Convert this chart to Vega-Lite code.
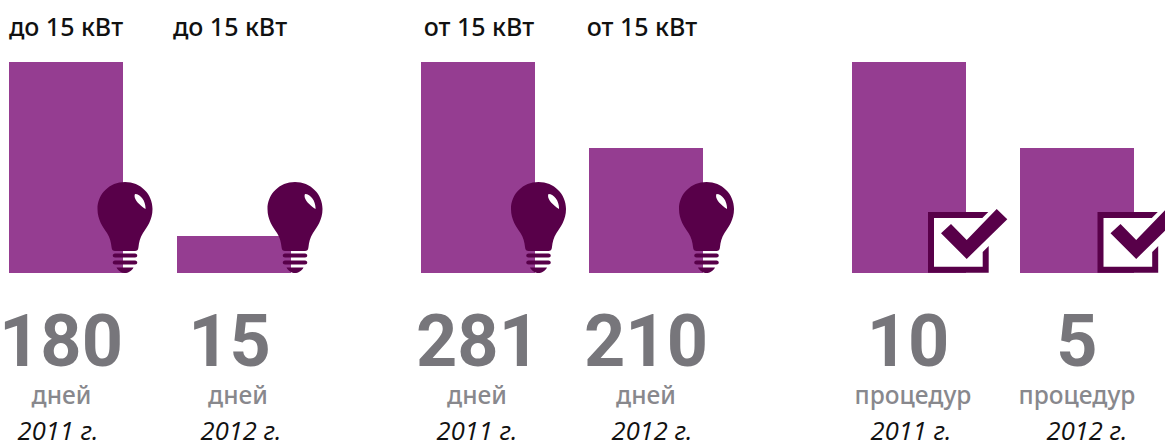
{
"$schema":"https://vega.github.io/schema/vega-lite/v6.json",
"width":1165,"height":441,"padding":0,"autosize":{"type":"none"},
"background":"white","view":{"stroke":null},
"data":{"values":[
{"slot":1,"power":"до 15 кВт","year":"2011 г.","value":180,"unit":"дней","level":100,"icon":"bulb"},
{"slot":2,"power":"до 15 кВт","year":"2012 г.","value":15,"unit":"дней","level":17.5,"icon":"bulb"},
{"slot":3,"power":"от 15 кВт","year":"2011 г.","value":281,"unit":"дней","level":100,"icon":"bulb"},
{"slot":4,"power":"от 15 кВт","year":"2012 г.","value":210,"unit":"дней","level":59.2,"icon":"bulb"},
{"slot":5,"power":"","year":"2011 г.","value":10,"unit":"процедур","level":100,"icon":"check"},
{"slot":6,"power":"","year":"2012 г.","value":5,"unit":"процедур","level":59.2,"icon":"check"}
]},
"resolve":{"scale":{"x":"independent"}},
"layer":[
{"mark":{"type":"bar","orient":"vertical","width":114,"color":"#953d91"},
 "encoding":{"x":{"field":"slot","type":"quantitative","axis":null,"scale":{"domain":[1,2,3,4,5,6],"range":[66,234,478,646,909,1077],"nice":false,"zero":false,"padding":0}},
 "y":{"field":"level","type":"quantitative","axis":null,"scale":{"domain":[0,100],"range":[273,62],"nice":false}}}},
{"transform":[{"filter":"datum.icon==='bulb'"}],
 "mark":{"type":"point","filled":true,"opacity":1,"size":10000,"color":"#580049","shape":"M0 -.9C.31 -.9 .55 -.66 .55 -.36C.55 -.14 .44 0 .36 .12C.3 .22 .28 .3 .27 .4C.264 .46 .24 .48 .2 .48L-.2 .48C-.24 .48 -.264 .46 -.27 .4C-.28 .3 -.3 .22 -.36 .12C-.44 0 -.55 -.14 -.55 -.36C-.55 -.66 -.31 -.9 0 -.9ZM.2 -.66C.16 -.58 .26 -.46 .41 -.36C.42 -.5 .32 -.66 .2 -.66ZM-.2 .53L.2 .53C.26 .53 .26 .61 .2 .61L-.2 .61C-.26 .61 -.26 .53 -.2 .53ZM-.2 .67L.2 .67C.26 .67 .26 .75 .2 .75L-.2 .75C-.26 .75 -.26 .67 -.2 .67ZM-.17 .81L.17 .81C.14 .88 .06 .92 0 .92C-.06 .92 -.14 .88 -.17 .81Z"},
 "encoding":{"x":{"field":"slot","type":"quantitative","axis":null,"scale":{"domain":[1,2,3,4],"range":[125,295,538.5,706.5],"nice":false,"zero":false}},
 "y":{"datum":21.8,"type":"quantitative","axis":null,"scale":{"domain":[0,100],"range":[273,62],"nice":false}}}},
{"transform":[{"filter":"datum.icon==='check'"}],
 "mark":{"type":"point","filled":true,"opacity":1,"size":10000,"color":"#ffffff","shape":"M-.5 -.48L.5 -.48L.5 .52L-.5 .52Z"},
 "encoding":{"x":{"field":"slot","type":"quantitative","axis":null,"scale":{"domain":[5,6],"range":[958,1127.5],"nice":false,"zero":false}},
 "y":{"datum":15.2,"type":"quantitative","axis":null,"scale":{"domain":[0,100],"range":[273,62],"nice":false}}}},
{"transform":[{"filter":"datum.icon==='check'"}],
 "mark":{"type":"point","filled":true,"opacity":1,"size":10000,"color":"#580049","shape":"M-.6 -.58L.606 -.58L.486 -.46L-.48 -.46L-.48 .514L.494 .514L.494 .22L.614 .1L.614 .634L-.6 .634ZM.774 -.64L.986 -.434L.174 .36L-.34 -.154L-.14 -.34L.174 -.02Z"},
 "encoding":{"x":{"field":"slot","type":"quantitative","axis":null,"scale":{"domain":[5,6],"range":[958,1127.5],"nice":false,"zero":false}},
 "y":{"datum":15.2,"type":"quantitative","axis":null,"scale":{"domain":[0,100],"range":[273,62],"nice":false}}}},
{"transform":[{"filter":"datum.power!==''"}],
 "mark":{"type":"text","font":"Noto Sans","fontSize":25,"fontWeight":500,"color":"#111111","align":"center","baseline":"alphabetic"},
 "encoding":{"text":{"field":"power"},"x":{"field":"slot","type":"quantitative","axis":null,"scale":{"domain":[1,2,3,4],"range":[66,230,479,642],"nice":false,"zero":false}},
 "y":{"datum":112.3,"type":"quantitative","axis":null,"scale":{"domain":[0,100],"range":[273,62],"nice":false}}}},
{"mark":{"type":"text","font":"Roboto","fontSize":72,"fontWeight":"bold","color":"#77767b","align":"center","baseline":"alphabetic"},
 "encoding":{"text":{"field":"value","type":"nominal"},"x":{"field":"slot","type":"quantitative","axis":null,"scale":{"domain":[1,2,3,4,5,6],"range":[61,229.5,478,646,908,1077],"nice":false,"zero":false}},
 "y":{"datum":-44,"type":"quantitative","axis":null,"scale":{"domain":[0,100],"range":[273,62],"nice":false}}}},
{"mark":{"type":"text","font":"Noto Sans","fontSize":24.5,"fontWeight":500,"color":"#88888d","align":"center","baseline":"alphabetic"},
 "encoding":{"text":{"field":"unit"},"x":{"field":"slot","type":"quantitative","axis":null,"scale":{"domain":[1,2,3,4,5,6],"range":[61.5,238,477,646,913,1077],"nice":false,"zero":false}},
 "y":{"datum":-62.1,"type":"quantitative","axis":null,"scale":{"domain":[0,100],"range":[273,62],"nice":false}}}},
{"mark":{"type":"text","font":"Open Sans","fontSize":25.5,"fontStyle":"italic","color":"#111111","align":"center","baseline":"alphabetic"},
 "encoding":{"text":{"field":"year"},"x":{"field":"slot","type":"quantitative","axis":null,"scale":{"domain":[1,2,3,4,5,6],"range":[58,241,477,652,911,1087],"nice":false,"zero":false}},
 "y":{"datum":-79.1,"type":"quantitative","axis":null,"scale":{"domain":[0,100],"range":[273,62],"nice":false}}}}
]
}
